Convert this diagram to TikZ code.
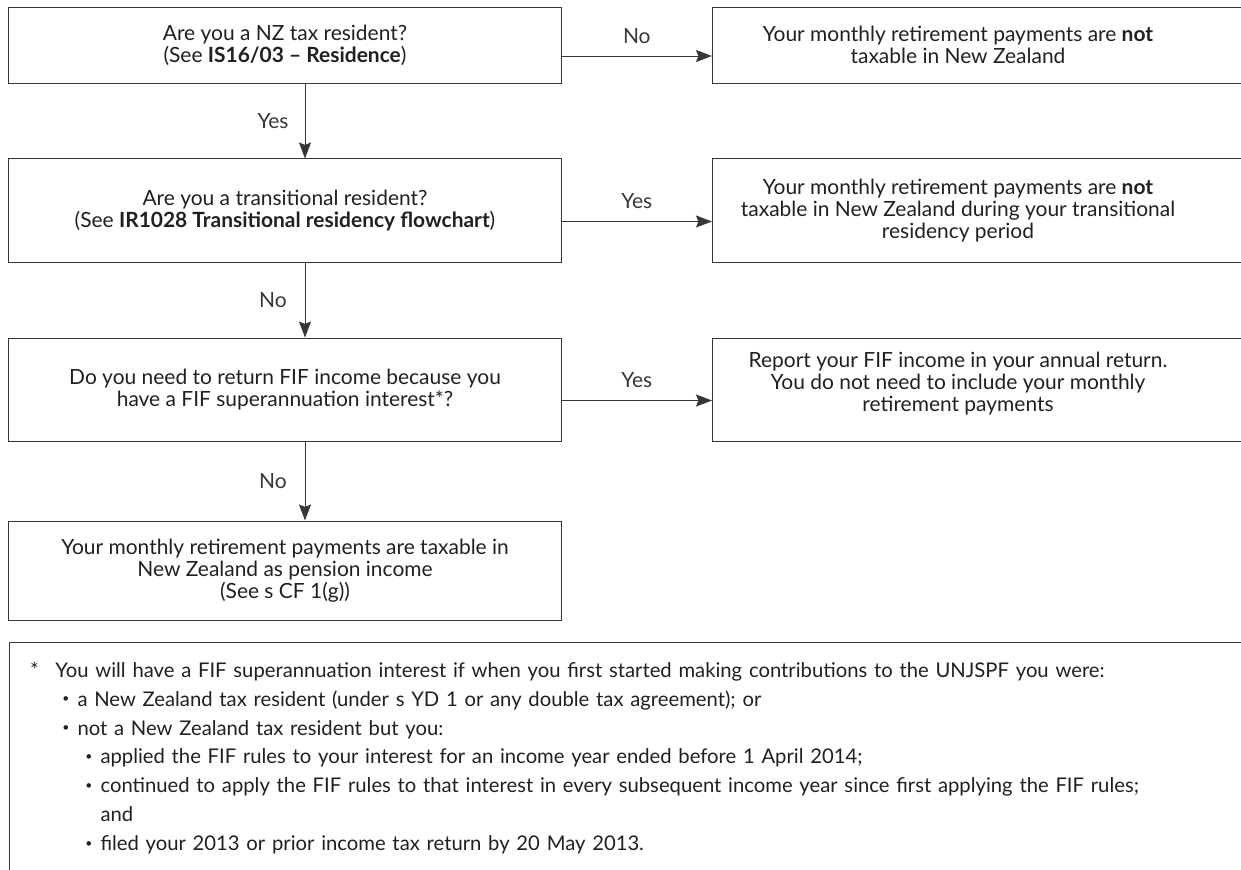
\documentclass[tikz,border=0pt]{standalone}
\usepackage{fontspec}
\setmainfont{Lato}
\usetikzlibrary{arrows.meta,positioning,calc}
\definecolor{fcink}{RGB}{35,31,32}
\definecolor{fcline}{RGB}{55,55,55}
\newcommand{\fnbul}{\raisebox{0.3ex}{\scalebox{0.6}{\textbullet}}}
\newcommand{\fnstar}[1]{\par{\leftskip=0.7cm\noindent\llap{*\hspace{0.42cm}}#1\par}}
\newcommand{\fnitem}[1]{\par{\leftskip=1.25cm\noindent\llap{\fnbul\hspace{0.2cm}}#1\par}}
\newcommand{\fnsub}[1]{\par{\leftskip=1.825cm\noindent\llap{\fnbul\hspace{0.2cm}}#1\par}}

\begin{document}
\begin{tikzpicture}[
  x=0.025cm, y=-0.025cm,
  font=\fontsize{14.9}{15.6}\selectfont, text=fcink,
  qbox/.style={draw=fcline, line width=0.7pt, align=center, minimum width=13.8cm, inner sep=0pt},
  abox/.style={draw=fcline, line width=0.7pt, minimum width=14cm, anchor=west, inner sep=0pt},
  atxt/.style={align=center, inner sep=0pt},
  lbl/.style={inner sep=0pt},
  fbox/.style={draw=fcline, line width=0.7pt, anchor=north west, align=left, text width=31.25cm,
    inner xsep=0.45cm, inner ysep=0.14cm, font=\fontsize{14.4}{20.6}\selectfont},
  arr/.style={-{Stealth[length=4mm,width=3mm,inset=0.6mm]}, fcline, line width=0.7pt}
]
\useasboundingbox (0,0) rectangle (1241,869);

\node[qbox, minimum height=1.9cm] (q1) at (285,45) {Are you a NZ tax resident?\\(See \textbf{IS16/03 -- Residence})};
\node[qbox, minimum height=2.575cm] (q2) at (285,210.5) {Are you a transitional resident?\\(See \textbf{IR1028 Transitional residency flowchart})};
\node[qbox, minimum height=2.575cm] (q3) at (285,389.5) {Do you need to return FIF income because you\\have a FIF superannuation interest*?};
\node[qbox, minimum height=2.475cm] (q4) at (285,570.5) {Your monthly retirement payments are taxable in\\New Zealand as pension income\\(See s CF 1(g))};

\node[abox, minimum height=1.9cm] (r1) at (712,45) {};
\node[abox, minimum height=2.575cm] (r2) at (712,210.5) {};
\node[abox, minimum height=2.575cm] (r3) at (712,389.5) {};
\node[atxt] (r1t) at (958,45) {Your monthly retirement payments are \textbf{not}\\taxable in New Zealand};
\node[atxt] (r2t) at (958,210.5) {Your monthly retirement payments are \textbf{not}\\taxable in New Zealand during your transitional\\residency period};
\node[atxt] (r3t) at (958,384) {Report your FIF income in your annual return.\\You do not need to include your monthly\\retirement payments};

\draw[arr] ($(q1.east)+(0,11)$) -- ($(r1.west)+(0,11)$) node[lbl, midway, yshift=0.5cm] {No};
\draw[arr] ($(q2.east)+(0,11)$) -- ($(r2.west)+(0,11)$) node[lbl, midway, yshift=0.5cm] {Yes};
\draw[arr] ($(q3.east)+(0,11)$) -- ($(r3.west)+(0,11)$) node[lbl, midway, yshift=0.5cm] {Yes};
\draw[arr] ($(q1.south)+(20,0)$) -- ($(q2.north)+(20,0)$) node[lbl, midway, xshift=-0.8cm] {Yes};
\draw[arr] ($(q2.south)+(20,0)$) -- ($(q3.north)+(20,0)$) node[lbl, midway, xshift=-0.8cm] {No};
\draw[arr] ($(q3.south)+(20,0)$) -- ($(q4.north)+(20,0)$) node[lbl, midway, xshift=-0.8cm] {No};

\node[fbox] (fnote) at (9,642) {%
\fnstar{You will have a FIF superannuation interest if when you first started making contributions to the UNJSPF you were:}
\fnitem{a New Zealand tax resident (under s YD 1 or any double tax agreement); or}
\fnitem{not a New Zealand tax resident but you:}
\fnsub{applied the FIF rules to your interest for an income year ended before 1 April 2014;}
\fnsub{continued to apply the FIF rules to that interest in every subsequent income year since first applying the FIF rules;\\and}
\fnsub{filed your 2013 or prior income tax return by 20 May 2013.}
\vspace*{1.2cm}};
\end{tikzpicture}
\end{document}
